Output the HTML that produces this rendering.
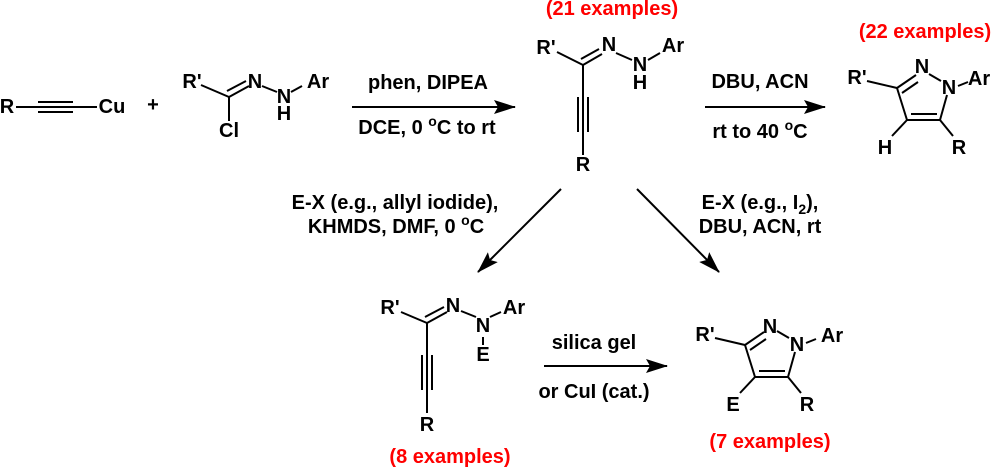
<!DOCTYPE html>
<html><head><meta charset="utf-8"><style>
html,body{margin:0;padding:0;background:#fff}
svg{display:block}
text{font-family:"Liberation Sans",Arial,sans-serif;font-weight:bold;font-size:20px;fill:#000}
.r{fill:#f00;font-size:20px}
</style></head><body>
<svg width="996" height="467" viewBox="0 0 996 467" xmlns="http://www.w3.org/2000/svg">
<defs>
<marker id="ah2" markerWidth="22" markerHeight="14" refX="21" refY="7" orient="auto" markerUnits="userSpaceOnUse" viewBox="0 0 22 14"><path d="M0,0 L22,7 L0,14 L4,7 Z" fill="#000"/></marker></defs>
<g stroke="#000" stroke-width="2" fill="none">
<line x1="16" y1="107" x2="97" y2="107"/>
<line x1="38" y1="102" x2="73" y2="102"/><line x1="38" y1="112" x2="73" y2="112"/>
<line x1="201" y1="85" x2="229" y2="97"/>
<line x1="229" y1="97" x2="249" y2="86"/><line x1="227" y1="91" x2="246" y2="81"/>
<line x1="262" y1="86" x2="277" y2="92"/><line x1="291" y1="92" x2="302" y2="86"/>
<line x1="229" y1="97" x2="229" y2="121"/>
<line x1="352" y1="107" x2="515" y2="107" marker-end="url(#ah2)"/>
<line x1="705" y1="107" x2="825" y2="107" marker-end="url(#ah2)"/>
<line x1="557" y1="52" x2="583" y2="65"/>
<line x1="583" y1="65" x2="602" y2="54"/><line x1="581" y1="59" x2="599" y2="49"/>
<line x1="616" y1="53" x2="632" y2="60"/><line x1="648" y1="60" x2="660" y2="53"/>
<line x1="583" y1="65" x2="583" y2="155"/>
<line x1="578" y1="97" x2="578" y2="132"/><line x1="588" y1="97" x2="588" y2="132"/>
<line x1="867" y1="81" x2="897" y2="88"/>
<line x1="897" y1="88" x2="916" y2="75"/><line x1="902" y1="93" x2="918" y2="82"/>
<line x1="929" y1="74" x2="941" y2="81"/>
<line x1="958" y1="86" x2="968" y2="82"/>
<line x1="897" y1="88" x2="907" y2="120"/>
<line x1="907" y1="120" x2="940" y2="120"/><line x1="911" y1="114" x2="937" y2="114"/>
<line x1="940" y1="120" x2="947" y2="95"/>
<line x1="907" y1="120" x2="892" y2="136"/>
<line x1="940" y1="120" x2="953" y2="136"/>
<line x1="561" y1="189" x2="478" y2="272" marker-end="url(#ah2)"/>
<line x1="637" y1="189" x2="719" y2="272" marker-end="url(#ah2)"/>
<line x1="401" y1="312" x2="427" y2="323"/>
<line x1="427" y1="323" x2="447" y2="312"/><line x1="425" y1="317" x2="444" y2="307"/>
<line x1="461" y1="311" x2="476" y2="317"/><line x1="490" y1="317" x2="501" y2="312"/>
<line x1="483" y1="337" x2="483" y2="345"/>
<line x1="427" y1="323" x2="427" y2="413"/>
<line x1="422" y1="355" x2="422" y2="390"/><line x1="432" y1="355" x2="432" y2="390"/>
<line x1="544" y1="366" x2="667" y2="366" marker-end="url(#ah2)"/>
<line x1="715" y1="338" x2="745" y2="345"/>
<line x1="745" y1="345" x2="764" y2="332"/><line x1="750" y1="350" x2="766" y2="339"/>
<line x1="777" y1="331" x2="789" y2="338"/>
<line x1="806" y1="343" x2="816" y2="339"/>
<line x1="745" y1="345" x2="755" y2="377"/>
<line x1="755" y1="377" x2="788" y2="377"/><line x1="759" y1="371" x2="785" y2="371"/>
<line x1="788" y1="377" x2="795" y2="352"/>
<line x1="755" y1="377" x2="740" y2="393"/>
<line x1="788" y1="377" x2="801" y2="393"/>
</g>
<g dominant-baseline="central" text-anchor="middle">
<text x="7" y="107">R</text><text x="112" y="107">Cu</text>
<text x="153" y="105" font-size="24">+</text>
<text x="192" y="82">R'</text><text x="255" y="82">N</text><text x="284" y="97">N</text><text x="284" y="114">H</text><text x="318" y="82">Ar</text><text x="229" y="131">Cl</text>
<text x="428" y="83">phen, DIPEA</text><text x="427" y="128">DCE, 0 <tspan dy="-7" font-size="14">o</tspan><tspan dy="7">C to rt</tspan></text>
<text class="r" x="612" y="9">(21 examples)</text>
<text x="546" y="48">R'</text><text x="609" y="45">N</text><text x="640" y="65">N</text><text x="640" y="83">H</text><text x="673" y="46">Ar</text><text x="583" y="165">R</text>
<text x="760" y="82">DBU, ACN</text><text x="760" y="132">rt to 40 <tspan dy="-7" font-size="14">o</tspan><tspan dy="7">C</tspan></text>
<text class="r" x="925" y="32">(22 examples)</text>
<text x="857" y="78">R'</text><text x="922" y="67">N</text><text x="949" y="88">N</text><text x="979" y="79">Ar</text><text x="885" y="148">H</text><text x="959" y="148">R</text>
<text x="395" y="203">E-X (e.g., allyl iodide),</text>
<text x="396" y="227">KHMDS, DMF, 0 <tspan dy="-7" font-size="14">o</tspan><tspan dy="7">C</tspan></text>
<text x="760" y="203">E-X (e.g., I<tspan dy="6" font-size="14">2</tspan><tspan dy="-6">),</tspan></text>
<text x="760" y="227">DBU, ACN, rt</text>
<text x="390" y="308">R'</text><text x="453" y="306">N</text><text x="483" y="326">N</text><text x="514" y="308">Ar</text><text x="483" y="355">E</text><text x="427" y="425">R</text>
<text class="r" x="450" y="457">(8 examples)</text>
<text x="594" y="343">silica gel</text><text x="594" y="392">or CuI (cat.)</text>
<text x="705" y="335">R'</text><text x="770" y="327">N</text><text x="797" y="345">N</text><text x="832" y="336">Ar</text><text x="733" y="405">E</text><text x="807" y="405">R</text>
<text class="r" x="770" y="442">(7 examples)</text>
</g>
</svg>
</body></html>
